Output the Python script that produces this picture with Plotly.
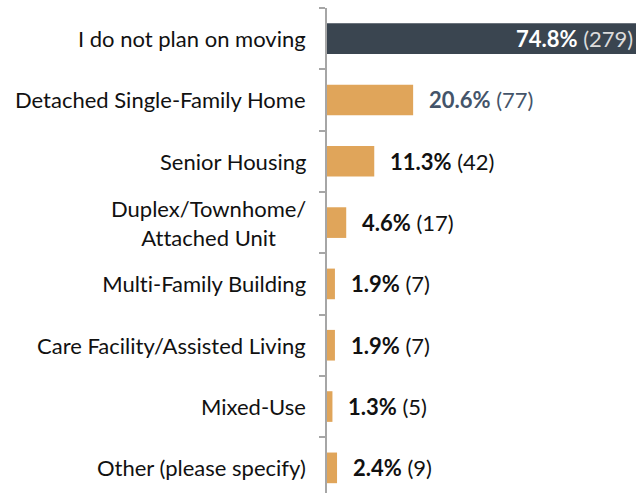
import plotly.graph_objects as go

categories = [
    "I do not plan on moving",
    "Detached Single-Family Home",
    "Senior Housing",
    "Duplex/Townhome/<br>Attached Unit",
    "Multi-Family Building",
    "Care Facility/Assisted Living",
    "Mixed-Use",
    "Other (please specify)",
]
percents = [74.8, 20.6, 11.3, 4.6, 1.9, 1.9, 1.3, 2.4]
counts = [279, 77, 42, 17, 7, 7, 5, 9]

DARK = "#3a4550"
ORANGE = "#e0a55a"
FONT = "Lato"
FS = 22

colors = [DARK] + [ORANGE] * (len(categories) - 1)
ypos = list(range(len(categories)))

fig = go.Figure(
    go.Bar(
        x=percents,
        y=ypos,
        orientation="h",
        marker=dict(color=colors, line=dict(width=0)),
        width=0.5,
        hoverinfo="skip",
    )
)

annotations = []
for i, (cat, p, c) in enumerate(zip(categories, percents, counts)):
    annotations.append(dict(
        xref="paper", x=0, yref="y", y=i, text=cat, showarrow=False,
        xanchor="right", align="center", xshift=-19,
        font=dict(family=FONT, size=FS, color="#111111"),
    ))
    if i == 0:
        txt = f"<b>{p:.1f}%</b> <span style='color:#dcdcdc'>({c})</span>"
        annotations.append(dict(
            xref="paper", x=1, yref="y", y=i, text=txt, showarrow=False,
            xanchor="right", xshift=-1,
            font=dict(family=FONT, size=FS, color="#ffffff"),
        ))
    else:
        txt = f"<b>{p:.1f}%</b> ({c})"
        col = "#44546a" if i == 1 else "#111111"
        annotations.append(dict(
            xref="x", x=p, yref="y", y=i, text=txt, showarrow=False,
            xanchor="left", xshift=14,
            font=dict(family=FONT, size=FS, color=col),
        ))

fig.update_layout(
    width=636, height=493,
    margin=dict(l=327, r=0, t=8, b=0, pad=0),
    paper_bgcolor="white", plot_bgcolor="white",
    showlegend=False,
    bargap=0.5,
    xaxis=dict(range=[0, 73.9], visible=False, fixedrange=True),
    yaxis=dict(
        type="linear",
        range=[7.41, -0.5],
        tickmode="array",
        tickvals=[k - 0.5 for k in range(len(categories))],
        ticktext=[""] * len(categories),
        ticks="outside", ticklen=6, tickwidth=1.5, tickcolor="#a6a6a6",
        showline=True, linecolor="#a6a6a6", linewidth=1.5,
        showgrid=False, zeroline=False, fixedrange=True,
    ),
    annotations=annotations,
)

post = (
    "document.body.style.margin='0';"
    "document.body.style.overflow='hidden';"
    "var s=document.createElement('style');"
    "s.textContent='text,tspan{font-variant-ligatures:none;font-feature-settings:\"liga\" 0;}';"
    "document.head.appendChild(s);"
)

fig.write_html(
    "out.html",
    config={"displayModeBar": False},
    post_script=post,
)
